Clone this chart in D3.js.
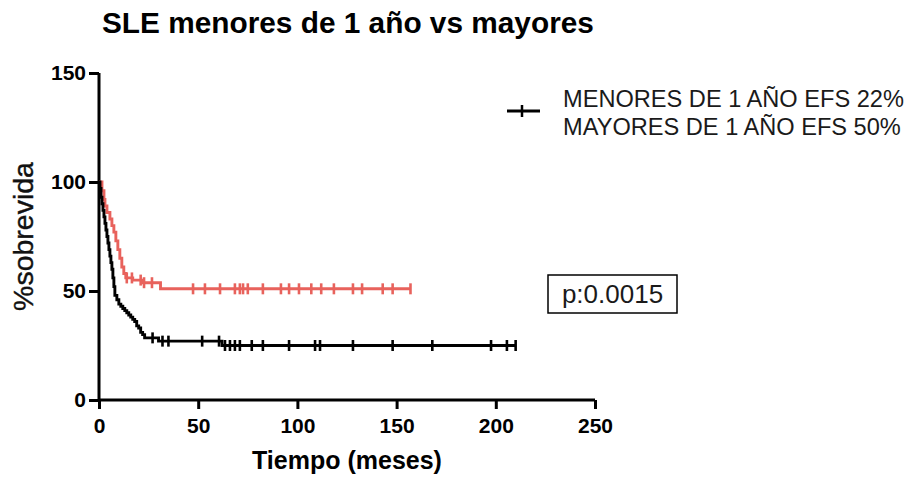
<!DOCTYPE html>
<html>
<head>
<meta charset="utf-8">
<script src="https://cdn.jsdelivr.net/npm/d3@7"></script>
<style>
  html, body { margin: 0; padding: 0; background: #fff; }
  svg { display: block; }
</style>
</head>
<body>
<svg id="chart" width="916" height="480"></svg>
<script>
// Kaplan–Meier steps: event times (months) and survival (%) after each step
const menoresTimes = [0, 0.5, 1, 1.5, 2, 2.5, 3, 3.5, 4, 4.5, 5, 5.5, 6, 6.5, 7, 7.5, 8, 9, 10, 11, 12, 13, 14, 15, 16, 17, 18, 19, 20, 21, 22, 23, 30, 62];
const menoresSurv  = [100, 97, 93, 90, 87, 84, 81, 78, 75, 72, 69, 66, 63, 60, 56, 52, 48, 46, 44, 43, 42, 41, 40, 39, 38, 37, 36, 34, 33, 31, 30, 28.5, 27, 25];
const menoresEnd = 210;
const menoresCensored = [27, 32, 35, 52, 60.5, 63.5, 66, 68.5, 71, 77, 82.6, 95.8, 108.9, 111.4, 128, 148, 168, 197.6, 205.6, 210];

const mayoresTimes = [0, 1.5, 2.5, 3, 4, 5.5, 6.5, 7.5, 8.5, 9.5, 10.5, 11.5, 12.5, 13.5, 17, 22, 31];
const mayoresSurv  = [100, 96, 92, 89, 86, 83, 80, 77, 73, 69, 65, 61, 58, 56, 55, 53.8, 51];
const mayoresEnd = 157;
const mayoresCensored = [14, 16.6, 21, 22.7, 26.7, 47.4, 53.4, 61, 68.5, 71, 72.6, 75, 82.6, 91.7, 95.8, 100.8, 107, 112, 118.4, 128, 132.6, 143, 148, 157];

const xTicks = [0, 50, 100, 150, 200, 250];
const yTicks = [0, 50, 100, 150];
const legendLabels = ["MENORES DE 1 AÑO EFS 22%", "MAYORES DE 1 AÑO EFS 50%"];
const pLabel = "p:0.0015";
const titleText = "SLE menores de 1 año vs mayores";

const svg = d3.select("#chart");
const x = d3.scaleLinear().domain([0, 250]).range([99, 595]);
const y = d3.scaleLinear().domain([0, 150]).range([400, 73]);

const font = "'Liberation Sans', Arial, Helvetica, sans-serif";

// title
svg.append("text")
  .attr("x", 102).attr("y", 33)
  .attr("font-family", font).attr("font-weight", "bold").attr("font-size", 29.8)
  .attr("fill", "#000").text(titleText);

// axes
const xAxis = svg.append("g").attr("transform", `translate(0,${y(0)})`)
  .call(d3.axisBottom(x).tickValues(xTicks).tickSize(9).tickPadding(9));
const yAxis = svg.append("g").attr("transform", `translate(${x(0)},0)`)
  .call(d3.axisLeft(y).tickValues(yTicks).tickSize(10).tickPadding(3));
[xAxis, yAxis].forEach(g => {
  g.select(".domain").attr("stroke", "#000").attr("stroke-width", 3);
  g.selectAll(".tick line").attr("stroke", "#000").attr("stroke-width", 3);
  g.selectAll(".tick text")
    .attr("font-family", font).attr("font-weight", "bold").attr("font-size", 21)
    .attr("fill", "#000");
});
xAxis.select(".domain").attr("d", `M${x(0)},0H${x(250)}`);
yAxis.select(".domain").attr("d", `M0,${y(150)}V${y(0)}`);

// axis titles
svg.append("text")
  .attr("x", (x(0) + x(250)) / 2).attr("y", 469)
  .attr("text-anchor", "middle")
  .attr("font-family", font).attr("font-weight", "bold").attr("font-size", 25)
  .attr("fill", "#000").text("Tiempo (meses)");
svg.append("text")
  .attr("transform", `translate(33,${(y(0) + y(150)) / 2}) rotate(-90)`)
  .attr("text-anchor", "middle")
  .attr("font-family", font).attr("font-size", 28.5)
  .attr("stroke", "#111").attr("stroke-width", 0.4)
  .attr("fill", "#111").text("%sobrevida");

// survival curves
function stepPoints(times, surv, end) {
  const pts = times.map((t, i) => [t, surv[i]]);
  pts.push([end, surv[surv.length - 1]]);
  return pts;
}
function survAt(times, surv, t) {
  let s = surv[0];
  for (let i = 0; i < times.length; i++) if (times[i] <= t) s = surv[i];
  return s;
}
const line = d3.line().x(d => x(d[0])).y(d => y(d[1])).curve(d3.curveStepAfter);

function drawSeries(times, surv, end, censored, color, width) {
  const g = svg.append("g");
  g.append("path")
    .datum(stepPoints(times, surv, end))
    .attr("d", line)
    .attr("fill", "none")
    .attr("stroke", color)
    .attr("stroke-width", width)
    .attr("stroke-linejoin", "miter");
  g.selectAll("line.cens")
    .data(censored)
    .join("line")
    .attr("class", "cens")
    .attr("x1", d => x(d)).attr("x2", d => x(d))
    .attr("y1", d => y(survAt(times, surv, d)) - 5.5)
    .attr("y2", d => y(survAt(times, surv, d)) + 5.5)
    .attr("stroke", color).attr("stroke-width", 2.6);
}
drawSeries(mayoresTimes, mayoresSurv, mayoresEnd, mayoresCensored, "#E8625C", 2.9);
drawSeries(menoresTimes, menoresSurv, menoresEnd, menoresCensored, "#000", 2.9);

// legend
const leg = svg.append("g");
leg.append("line").attr("x1", 507).attr("x2", 540).attr("y1", 111).attr("y2", 111)
  .attr("stroke", "#000").attr("stroke-width", 3);
leg.append("line").attr("x1", 522).attr("x2", 522).attr("y1", 105).attr("y2", 117)
  .attr("stroke", "#000").attr("stroke-width", 2.5);
leg.selectAll("text.lab")
  .data(legendLabels)
  .join("text")
  .attr("class", "lab")
  .attr("x", 563).attr("y", (d, i) => 107 + i * 28)
  .attr("font-family", font).attr("font-size", 23.6)
  .attr("fill", "#1a1a1a").text(d => d);

// p-value box
svg.append("rect").attr("x", 548).attr("y", 275).attr("width", 129).attr("height", 38)
  .attr("fill", "#fff").attr("stroke", "#000").attr("stroke-width", 1.5);
svg.append("text").attr("x", 612.5).attr("y", 303).attr("text-anchor", "middle")
  .attr("font-family", font).attr("font-size", 26)
  .attr("fill", "#1a1a1a").text(pLabel);
</script>
</body>
</html>
